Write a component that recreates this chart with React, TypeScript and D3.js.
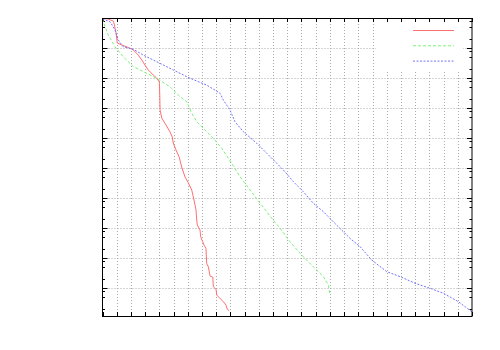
import React, { useEffect, useRef } from 'react';
import * as d3 from 'd3';

// x positions + y values (log scale)
const redX = [0, 0.39, 0.76, 0.84, 0.95, 1.04, 1.35, 1.82, 2.17, 2.52, 2.76, 2.99, 3.22, 3.57, 3.81, 4.0, 4.03, 4.05, 4.17, 4.47, 4.75, 4.91, 4.98, 5.17, 5.4, 5.57, 5.81, 6.04, 6.28, 6.44, 6.58, 6.63, 6.67, 6.86, 6.91, 7.05, 7.14, 7.28, 7.33, 7.45, 7.57, 7.76, 7.8, 7.99, 8.04, 8.27, 8.5, 8.69, 8.78, 8.92];
const redY = [0.97, 0.93, 0.79, 0.58, 0.32, 0.147, 0.126, 0.104, 0.086, 0.058, 0.04, 0.027, 0.0185, 0.0126, 0.01, 0.0074, 0.0027, 8.6e-4, 4.6e-4, 2.7e-4, 1.6e-4, 1.08e-4, 6.8e-5, 4.0e-5, 2.3e-5, 1.08e-5, 5.0e-6, 3.2e-6, 1.85e-6, 8.6e-7, 4.0e-7, 1.85e-7, 1.26e-7, 8.6e-8, 5.1e-8, 3.5e-8, 2.7e-8, 2.1e-8, 6.7e-9, 5.0e-9, 2.5e-9, 2.3e-9, 1.1e-9, 9.1e-10, 5.8e-10, 4.5e-10, 3.5e-10, 2.7e-10, 1.95e-10, 1.75e-10];

const greenX = [0, 0.18, 0.41, 0.88, 1.46, 2.17, 2.87, 3.81, 4.75, 5.45, 5.93, 6.28, 6.63, 7.21, 7.8, 8.39, 9.09, 9.68, 10.38, 11.08, 11.79, 12.49, 13.19, 13.9, 14.83, 15.54, 15.89, 16.01];
const greenY = [0.93, 0.51, 0.27, 0.11, 0.051, 0.024, 0.0162, 0.0098, 0.0051, 0.0024, 0.00162, 6.7e-4, 3.5e-4, 1.85e-4, 9.8e-5, 4.5e-5, 1.44e-5, 5.1e-6, 1.85e-6, 6.8e-7, 2.5e-7, 9.8e-8, 3.5e-8, 1.44e-8, 5.1e-9, 2.4e-9, 1.26e-9, 5.8e-10];

const blueX = [0, 0.53, 0.88, 1.11, 1.46, 2.17, 2.87, 3.81, 4.98, 6.16, 7.33, 8.27, 8.5, 8.97, 9.32, 9.91, 10.85, 11.56, 12.26, 12.84, 13.43, 14.13, 14.83, 15.54, 16.24, 16.95, 17.42, 18.12, 18.94, 20.0, 20.94, 21.99, 23.05, 23.98, 25.04, 25.98];
const blueY = [0.93, 0.75, 0.4, 0.185, 0.11, 0.091, 0.058, 0.035, 0.0185, 0.0098, 0.0058, 0.0031, 0.00185, 8.6e-4, 3.5e-4, 1.62e-4, 6.7e-5, 3.1e-5, 1.44e-5, 7.5e-6, 3.5e-6, 1.62e-6, 6.7e-7, 3.5e-7, 1.62e-7, 7.5e-8, 4.5e-8, 2.4e-8, 8.6e-9, 3.5e-9, 2.4e-9, 1.44e-9, 9.8e-10, 6.7e-10, 3.5e-10, 1.62e-10];

const xTicks = d3.range(0, 27, 1);
const yDecades = [1, 1e-1, 1e-2, 1e-3, 1e-4, 1e-5, 1e-6, 1e-7, 1e-8, 1e-9];
const yMinorMult = [0.2, 0.5, 0.8];

const series = [
  { name: 'red', xs: redX, ys: redY, color: '#ff6f6f', dash: null },
  { name: 'green', xs: greenX, ys: greenY, color: '#7cf07c', dash: '3,2' },
  { name: 'blue', xs: blueX, ys: blueY, color: '#7474ff', dash: '2,1.5' },
];

export default function App() {
  const ref = useRef<SVGSVGElement | null>(null);

  useEffect(() => {
    const svg = d3.select(ref.current);
    svg.selectAll('*').remove();

    const left = 102.5, right = 472, top = 18, bottom = 316;

    const x = d3.scaleLinear().domain([0, 26]).range([left, right]);
    const y = d3.scaleLog().domain([Math.pow(10, -298 / 30), 1]).range([bottom, top]);

    svg.append('rect').attr('width', 500).attr('height', 350).attr('fill', '#fff');

    // grid
    const grid = svg.append('g').attr('stroke', '#aaaaaa').attr('stroke-width', 1).attr('stroke-dasharray', '1,2');
    grid.selectAll('line.v')
      .data(xTicks.slice(1, -1)).enter()
      .append('line')
      .attr('x1', d => Math.round(x(d)) + 0.5).attr('x2', d => Math.round(x(d)) + 0.5)
      .attr('y1', top).attr('y2', bottom);
    grid.selectAll('line.h')
      .data(yDecades.slice(1)).enter()
      .append('line')
      .attr('x1', left).attr('x2', right)
      .attr('y1', d => Math.round(y(d)) + 0.5).attr('y2', d => Math.round(y(d)) + 0.5);

    // legend background hides grid
    svg.append('rect').attr('x', 376).attr('y', top + 0.5).attr('width', 87).attr('height', 52).attr('fill', '#fff');

    // ticks
    const ticks = svg.append('g').attr('stroke', '#000').attr('stroke-width', 1);
    xTicks.forEach(t => {
      const px = Math.round(x(t)) + 0.5;
      ticks.append('line').attr('x1', px).attr('x2', px).attr('y1', bottom).attr('y2', bottom - 4);
      ticks.append('line').attr('x1', px).attr('x2', px).attr('y1', top).attr('y2', top + 4);
    });
    yDecades.forEach(d => {
      const py = Math.round(y(d)) + 0.5;
      ticks.append('line').attr('x1', left).attr('x2', left + 5).attr('y1', py).attr('y2', py);
      ticks.append('line').attr('x1', right).attr('x2', right - 5).attr('y1', py).attr('y2', py);
      yMinorMult.forEach(m => {
        const v = d * m;
        if (v < y.domain()[0]) return;
        const pm = Math.round(y(v)) + 0.5;
        ticks.append('line').attr('x1', left).attr('x2', left + 2.5).attr('y1', pm).attr('y2', pm);
        ticks.append('line').attr('x1', right).attr('x2', right - 2.5).attr('y1', pm).attr('y2', pm);
      });
    });

    // curves
    const line = d3.line<[number, number]>().x(d => x(d[0])).y(d => y(d[1]));
    series.forEach(s => {
      const pts = s.xs.map((v, i) => [v, s.ys[i]] as [number, number]);
      const p = svg.append('path')
        .attr('d', line(pts))
        .attr('fill', 'none')
        .attr('stroke', s.color)
        .attr('stroke-width', 1);
      if (s.dash) p.attr('stroke-dasharray', s.dash);
    });

    // legend samples
    series.forEach((s, i) => {
      const ly = 30.5 + i * 15.3;
      const l = svg.append('line')
        .attr('x1', 413).attr('x2', 454)
        .attr('y1', ly).attr('y2', ly)
        .attr('stroke', s.color).attr('stroke-width', 1);
      if (s.dash) l.attr('stroke-dasharray', s.dash);
    });

    // border
    svg.append('rect')
      .attr('x', left).attr('y', top + 0.5)
      .attr('width', right - left).attr('height', bottom - top)
      .attr('fill', 'none').attr('stroke', '#000').attr('stroke-width', 1);
  }, []);

  return (
    <svg ref={ref} width={500} height={350} style={{ position: 'absolute', left: 0, top: 0 }} />
  );
}
